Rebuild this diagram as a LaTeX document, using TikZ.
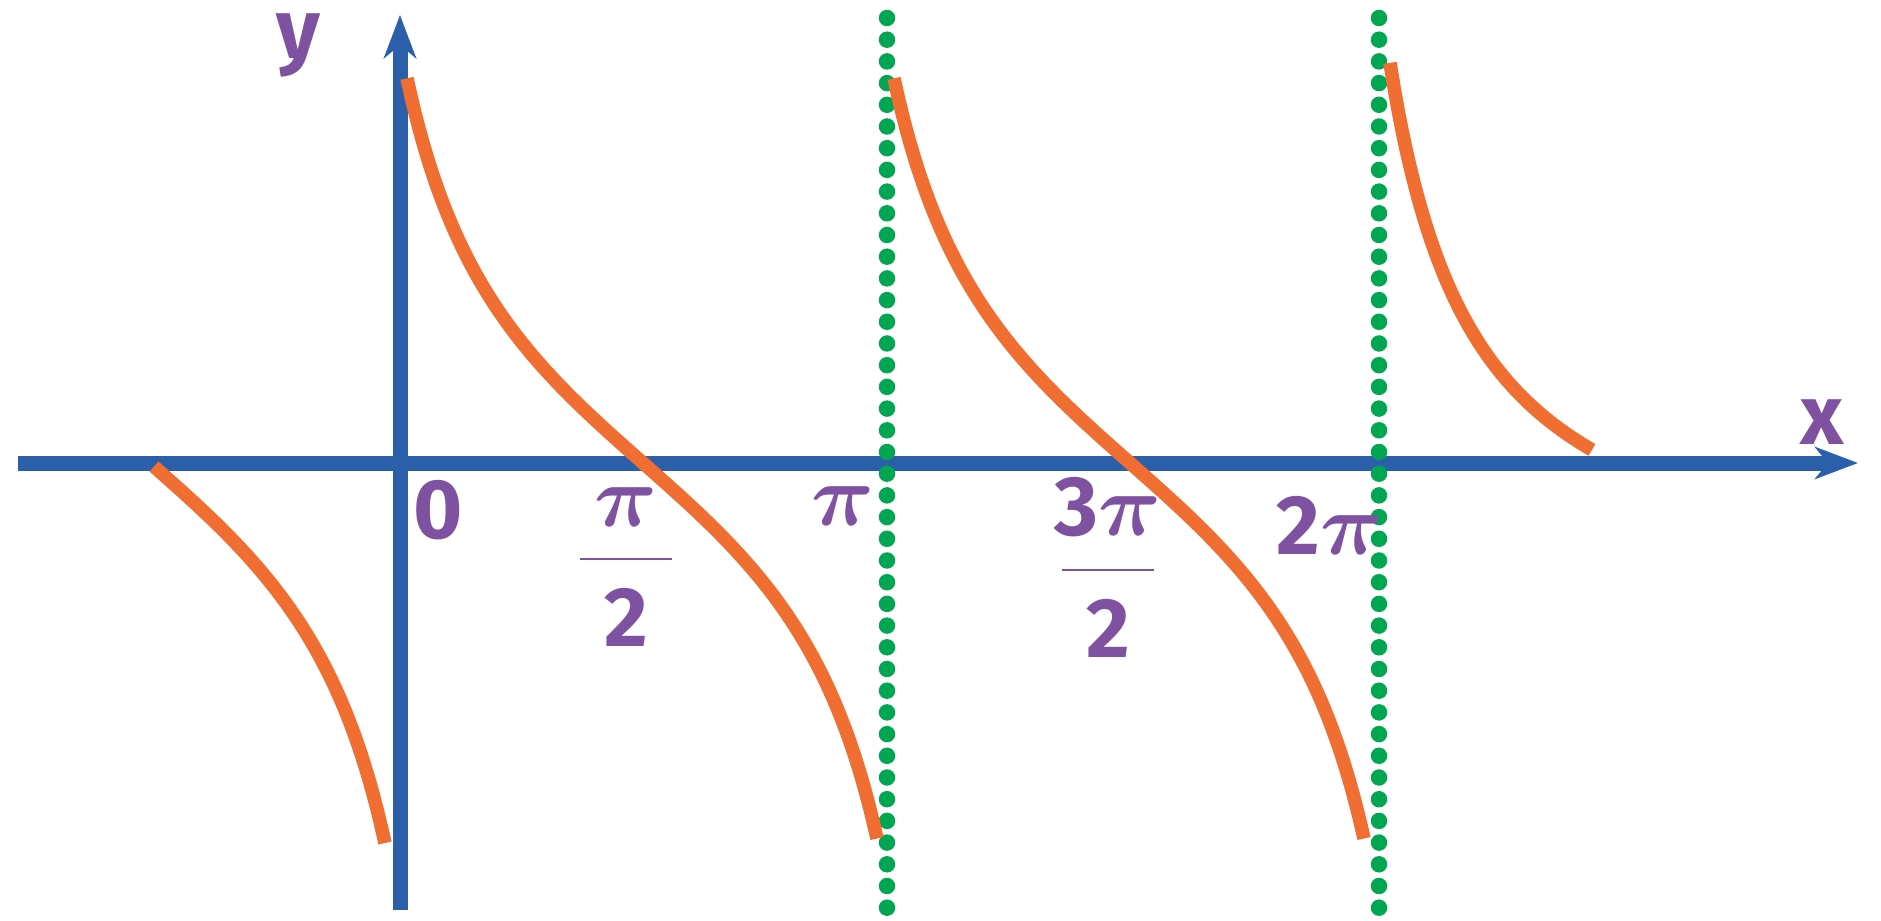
\documentclass[tikz,border=0pt]{standalone}
\usepackage{amsmath}
\usepackage{fontspec}
\usepackage{tikz}
\usetikzlibrary{arrows.meta}
\newfontfamily\graphfont{Fira Sans}
\definecolor{axisblue}{HTML}{2B5FAA}
\definecolor{curveorange}{HTML}{F06E32}
\definecolor{asymgreen}{HTML}{00A651}
\definecolor{labelpurple}{HTML}{7F51A1}
\newcommand{\tallfrac}[2]{\shortstack{#1\\[6pt]\rule{0.92cm}{0.6pt}\\[5pt]#2}}
\tikzset{
    axis/.style={draw=axisblue,line width=1.5mm,-{Stealth[length=4.3mm,width=3.2mm,inset=1.3mm]}},
    branch/.style={draw=curveorange,line width=1.35mm},
    asymptote/.style={draw=asymgreen,line width=1.65mm,line cap=round,dash pattern=on 0pt off 2.17mm},
    ticklabel/.style={text=labelpurple,font=\graphfont\bfseries\fontsize{24}{28}\selectfont,inner sep=0pt},
}

\begin{document}
\begin{tikzpicture}[x=0.1mm,y=0.1mm]
    \useasboundingbox (-400,-457) rectangle (1481,463);
    \coordinate (O) at (0,0);
    \coordinate (xstart) at (-382,0);
    \coordinate (xend) at (1458,0);
    \coordinate (ystart) at (0,-447);
    \coordinate (yend) at (0,448);

    % axes
    \draw[axis] (xstart) -- (xend);
    \draw[axis] (ystart) -- (yend);

    % asymptotes at pi and 2pi
    \draw[asymptote] (487,445) -- (487,-460);
    \draw[asymptote] (979,445) -- (979,-460);

    % cot branches
    \draw[branch] plot[domain=-246:-15,samples=80] (\x,{-186*tan(0.272*(\x+250))});
    \foreach \s in {0,487}
        \draw[branch] plot[domain=7:477,samples=120] (\x+\s,{-186*tan(0.272*(\x-243))});
    \draw[branch] plot[domain=990:1192,samples=80] (\x,{479.55/((\x-903.3)/100)-153});

    % labels
    \node[ticklabel] (zero) at (38,-47) {0};
    \node[ticklabel,anchor=north] (halfpi) at (226,-24) {\tallfrac{$\boldsymbol{\pi}$}{2}};
    \node[ticklabel] (pi) at (443,-43) {$\boldsymbol{\pi}$};
    \node[ticklabel,anchor=north] (threehalfpi) at (708,-14) {\tallfrac{3$\boldsymbol{\pi}$}{2}};
    \node[ticklabel] (twopi) at (930,-62) {2$\boldsymbol{\pi}$};
    \node[ticklabel] (xlbl) at (1422,41) {x};
    \node[ticklabel] (ylbl) at (-102,418) {y};
\end{tikzpicture}
\end{document}
